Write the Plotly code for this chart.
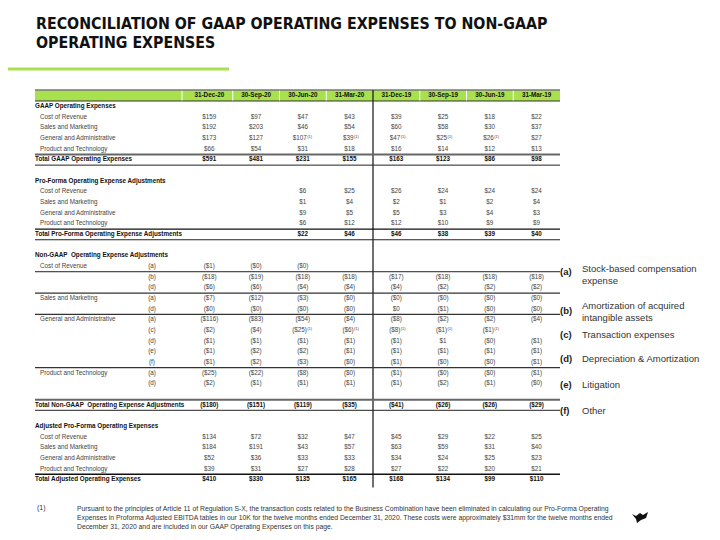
import math
import plotly.graph_objects as go

# ---------------- data ----------------
columns = ["31-Dec-20", "30-Sep-20", "30-Jun-20", "31-Mar-20",
           "31-Dec-19", "30-Sep-19", "30-Jun-19", "31-Mar-19"]

line_items = ["Cost of Revenue", "Sales and Marketing",
              "General and Administrative", "Product and Technology"]

gaap_values = [
    [159, 97, 47, 43, 39, 25, 18, 22],
    [192, 203, 46, 54, 60, 58, 30, 37],
    [173, 127, 107, 39, 47, 25, 26, 27],
    [66, 54, 31, 18, 16, 14, 12, 13],
]
gaap_total = [591, 481, 231, 155, 163, 123, 86, 98]
gaap_footnotes = [(2, 2), (2, 3), (2, 4), (2, 5), (2, 6)]

proforma_values = [
    [None, None, 6, 25, 26, 24, 24, 24],
    [None, None, 1, 4, 2, 1, 2, 4],
    [None, None, 9, 5, 5, 3, 4, 3],
    [None, None, 6, 12, 12, 10, 9, 9],
]
proforma_total = [None, None, 22, 46, 46, 38, 39, 40]

nongaap_labels = ["Cost of Revenue", "", "", "Sales and Marketing", "",
                  "General and Administrative", "", "", "", "",
                  "Product and Technology", ""]
nongaap_tags = ["(a)", "(b)", "(d)", "(a)", "(d)", "(a)", "(c)", "(d)", "(e)", "(f)", "(a)", "(d)"]
# negative numbers are shown in parentheses; -0.0 is shown as ($0)
nongaap_values = [
    [-1, -0.0, -0.0, None, None, None, None, None],
    [-18, -19, -18, -18, -17, -18, -18, -18],
    [-6, -6, -4, -4, -4, -2, -2, -2],
    [-7, -12, -3, -0.0, -0.0, -0.0, -0.0, -0.0],
    [-0.0, -0.0, -0.0, -0.0, 0, -1, -0.0, -0.0],
    [-116, -83, -54, -4, -8, -2, -2, -4],
    [-2, -4, -25, -6, -8, -1, -1, None],
    [-1, -1, -1, -1, -1, 1, -0.0, -1],
    [-1, -2, -2, -1, -1, -1, -1, -1],
    [-1, -2, -3, -0.0, -1, -0.0, -0.0, -1],
    [-25, -22, -8, -0.0, -1, -0.0, -0.0, -1],
    [-2, -1, -1, -1, -1, -2, -1, -0.0],
]
nongaap_total = [-180, -151, -119, -35, -41, -26, -26, -29]
nongaap_footnotes = [(6, 2), (6, 3), (6, 4), (6, 5), (6, 6)]

adjusted_values = [
    [134, 72, 32, 47, 45, 29, 22, 25],
    [184, 191, 43, 57, 63, 59, 31, 40],
    [52, 36, 33, 33, 34, 24, 25, 23],
    [39, 31, 27, 28, 27, 22, 20, 21],
]
adjusted_total = [410, 330, 135, 165, 168, 134, 99, 110]

legend_tags = ["(a)", "(b)", "(c)", "(d)", "(e)", "(f)"]
legend_texts = ["Stock-based compensation<br>expense",
                "Amortization of acquired<br>intangible assets",
                "Transaction expenses",
                "Depreciation & Amortization",
                "Litigation",
                "Other"]

title_lines = ["RECONCILIATION OF GAAP OPERATING EXPENSES TO NON-GAAP",
               "OPERATING EXPENSES"]
footnote_mark = "(1)"
footnote_text = ("Pursuant to the principles of Article 11 of Regulation S-X, the transaction costs related to the Business Combination have been eliminated in calculating our Pro-Forma Operating<br>"
                 "Expenses in Proforma Adjusted EBITDA tables in our 10K for the twelve months ended December 31, 2020. These costs were approximately $31mm for the twelve months ended<br>"
                 "December 31, 2020 and are included in our GAAP Operating Expenses on this page.")

# ---------------- layout constants ----------------
FONT = "Liberation Sans, Arial, sans-serif"
FS = 6.3
GREEN = "#a9e04e"
TXT = "#444444"
BOLD = "#111111"
X0, X1 = 35, 560
COL_W = (560 - 186) / 8
col_centers = [186 + COL_W * (i + 0.5) for i in range(8)]
TAG_X = 152
Y0, STEP = 106.5, 10.66
PAGE_OFF = 8  # page body margin


def ry(k):
    return Y0 + k * STEP


def fmt(v):
    if v is None:
        return ""
    if math.copysign(1, v) < 0:
        return "(${:.0f})".format(abs(v))
    return "${:.0f}".format(v)


# rows: (row index, label, tag, values, bold, indent, footnotes)
rows = []
rows.append((0, "GAAP Operating Expenses", "", None, True, False, []))
for i, lab in enumerate(line_items):
    rows.append((1 + i, lab, "", gaap_values[i], False, True,
                 [c for (r, c) in gaap_footnotes if r == i]))
rows.append((5, "Total GAAP Operating Expenses", "", gaap_total, True, False, []))
rows.append((7, "Pro-Forma Operating Expense Adjustments", "", None, True, False, []))
for i, lab in enumerate(line_items):
    rows.append((8 + i, lab, "", proforma_values[i], False, True, []))
rows.append((12, "Total Pro-Forma Operating Expense Adjustments", "", proforma_total, True, False, []))
rows.append((14, "Non-GAAP  Operating Expense Adjustments", "", None, True, False, []))
for i, lab in enumerate(nongaap_labels):
    rows.append((15 + i, lab, nongaap_tags[i], nongaap_values[i], False, True,
                 [c for (r, c) in nongaap_footnotes if r == i]))
rows.append((28, "Total Non-GAAP  Operating Expense Adjustments", "", nongaap_total, True, False, []))
rows.append((30, "Adjusted Pro-Forma Operating Expenses", "", None, True, False, []))
for i, lab in enumerate(line_items):
    rows.append((31 + i, lab, "", adjusted_values[i], False, True, []))
rows.append((35, "Total Adjusted Operating Expenses", "", adjusted_total, True, False, []))

fig = go.Figure()

# ---------------- shapes ----------------
shapes = []
shapes.append(dict(type="line", x0=PAGE_OFF, x1=229, y0=69, y1=69, line=dict(color=GREEN, width=3)))
shapes.append(dict(type="rect", x0=X0, x1=X1, y0=90, y1=101, fillcolor=GREEN, line=dict(width=0), layer="below"))
shapes.append(dict(type="line", x0=X0, x1=X1, y0=90, y1=90, line=dict(color="#777777", width=1.6)))
shapes.append(dict(type="line", x0=X0, x1=X1, y0=101, y1=101, line=dict(color="#333333", width=1)))
for i in range(8):
    xb = 182 if i == 0 else 186 + COL_W * i
    if i == 4:
        continue
    shapes.append(dict(type="line", x0=xb, x1=xb, y0=90.8, y1=100.5, line=dict(color="white", width=1)))
xdiv = 186 + COL_W * 4
shapes.append(dict(type="line", x0=xdiv, x1=xdiv, y0=90, y1=ry(35) + 8, line=dict(color="#222222", width=1.3)))


def hline(k, color="#222222", width=1):
    y = ry(k + 0.5)
    shapes.append(dict(type="line", x0=X0, x1=X1, y0=y, y1=y, line=dict(color=color, width=width)))


hline(4, "#666666", 2)
hline(5)
hline(11, "#111111", 1.4)
hline(12)
hline(15)
hline(17, "#333333", 1.2)
hline(19, "#333333", 1.2)
hline(24, "#333333", 1.2)
hline(27, "#666666", 2)
hline(28)
hline(34, "#111111", 1.4)

# logo (decorative)
shapes.append(dict(type="path",
                   path="M 632 514 L 636 516 L 640 513 L 643 515 L 648 512 L 646 518 L 641 520 L 637 523 L 636 519 Z",
                   fillcolor="#111111", line=dict(width=0)))

# ---------------- header text ----------------
fig.add_trace(go.Scatter(x=col_centers, y=[95.7] * 8, text=columns, mode="text",
                         textposition="middle center",
                         textfont=dict(family=FONT, size=FS, color=BOLD, weight="bold"),
                         hoverinfo="skip", showlegend=False))

# ---------------- rows ----------------
lab_x, lab_y, lab_t = [], [], []
blab_x, blab_y, blab_t = [], [], []
tag_y, tag_t = [], []
vx, vy, vt = [], [], []
fx, fy, ft = [], [], []
sx, sy = [], []
bvx, bvy, bvt = [], [], []
for (k, label, tag, vals, bold, indent, fns) in rows:
    y = ry(k)
    if label:
        if bold:
            blab_x.append(X0); blab_y.append(y); blab_t.append(label)
        else:
            lab_x.append(X0 + 5 if indent else X0); lab_y.append(y); lab_t.append(label)
    if tag:
        tag_y.append(y); tag_t.append(tag)
    if vals is not None:
        for c, v in enumerate(vals):
            s = fmt(v)
            if not s:
                continue
            if bold:
                bvx.append(col_centers[c]); bvy.append(y); bvt.append(s)
            elif c in fns:
                fx.append(col_centers[c] + 4); fy.append(y); ft.append(s)
                sx.append(col_centers[c] + 4.3); sy.append(y - 1.8)
            else:
                vx.append(col_centers[c]); vy.append(y); vt.append(s)

common = dict(mode="text", hoverinfo="skip", showlegend=False)
fig.add_trace(go.Scatter(x=lab_x, y=lab_y, text=lab_t, textposition="middle right",
                         textfont=dict(family=FONT, size=FS, color=TXT), **common))
fig.add_trace(go.Scatter(x=blab_x, y=blab_y, text=blab_t, textposition="middle right",
                         textfont=dict(family=FONT, size=FS, color=BOLD, weight="bold"), **common))
fig.add_trace(go.Scatter(x=[TAG_X] * len(tag_y), y=tag_y, text=tag_t, textposition="middle center",
                         textfont=dict(family=FONT, size=FS, color=TXT), **common))
fig.add_trace(go.Scatter(x=vx, y=vy, text=vt, textposition="middle center",
                         textfont=dict(family=FONT, size=FS, color=TXT), **common))
fig.add_trace(go.Scatter(x=fx, y=fy, text=ft, textposition="middle left",
                         textfont=dict(family=FONT, size=FS, color=TXT), **common))
fig.add_trace(go.Scatter(x=sx, y=sy, text=["(1)"] * len(sx), textposition="middle right",
                         textfont=dict(family=FONT, size=4, color=TXT), **common))
fig.add_trace(go.Scatter(x=bvx, y=bvy, text=bvt, textposition="middle center",
                         textfont=dict(family=FONT, size=FS, color=BOLD, weight="bold"), **common))

# ---------------- annotations ----------------
ann = []
TITLE_FONT = "Liberation Sans Narrow, DejaVu Sans Condensed, Arial Narrow, sans-serif"
for i, t in enumerate(title_lines):
    ann.append(dict(x=34, y=23.5 + 19 * i, text=t, showarrow=False, xanchor="left", yanchor="middle",
                    font=dict(family=TITLE_FONT, size=15.8, color="#111111", weight="bold")))

legend_y = [268, 305, 334, 358, 384, 410]
legend_tag_y = [271, 310, 334, 358, 384, 410]
for i in range(len(legend_tags)):
    ann.append(dict(x=558, y=legend_tag_y[i], text=legend_tags[i], showarrow=False,
                    xanchor="left", yanchor="middle",
                    font=dict(family=FONT, size=9.5, color="#222222", weight="bold")))
    two = "<br>" in legend_texts[i]
    ann.append(dict(x=580, y=legend_y[i] + (6 if two else 0), text=legend_texts[i], showarrow=False,
                    xanchor="left", yanchor="middle", align="left",
                    font=dict(family=FONT, size=9.5, color="#333333")))

ann.append(dict(x=35, y=508, text=footnote_mark, showarrow=False, xanchor="left", yanchor="middle",
                font=dict(family=FONT, size=7, color="#333333")))
ann.append(dict(x=75, y=518, text=footnote_text, showarrow=False, xanchor="left", yanchor="middle",
                align="left", font=dict(family=FONT, size=6.8, color="#333333")))

fig.update_layout(
    width=720, height=540,
    margin=dict(l=0, r=0, t=0, b=0),
    paper_bgcolor="white", plot_bgcolor="white",
    xaxis=dict(range=[PAGE_OFF, 720 + PAGE_OFF], visible=False, fixedrange=True),
    yaxis=dict(range=[540 + PAGE_OFF, PAGE_OFF], visible=False, fixedrange=True),
    shapes=shapes, annotations=ann,
)

fig.write_html("out.html")
